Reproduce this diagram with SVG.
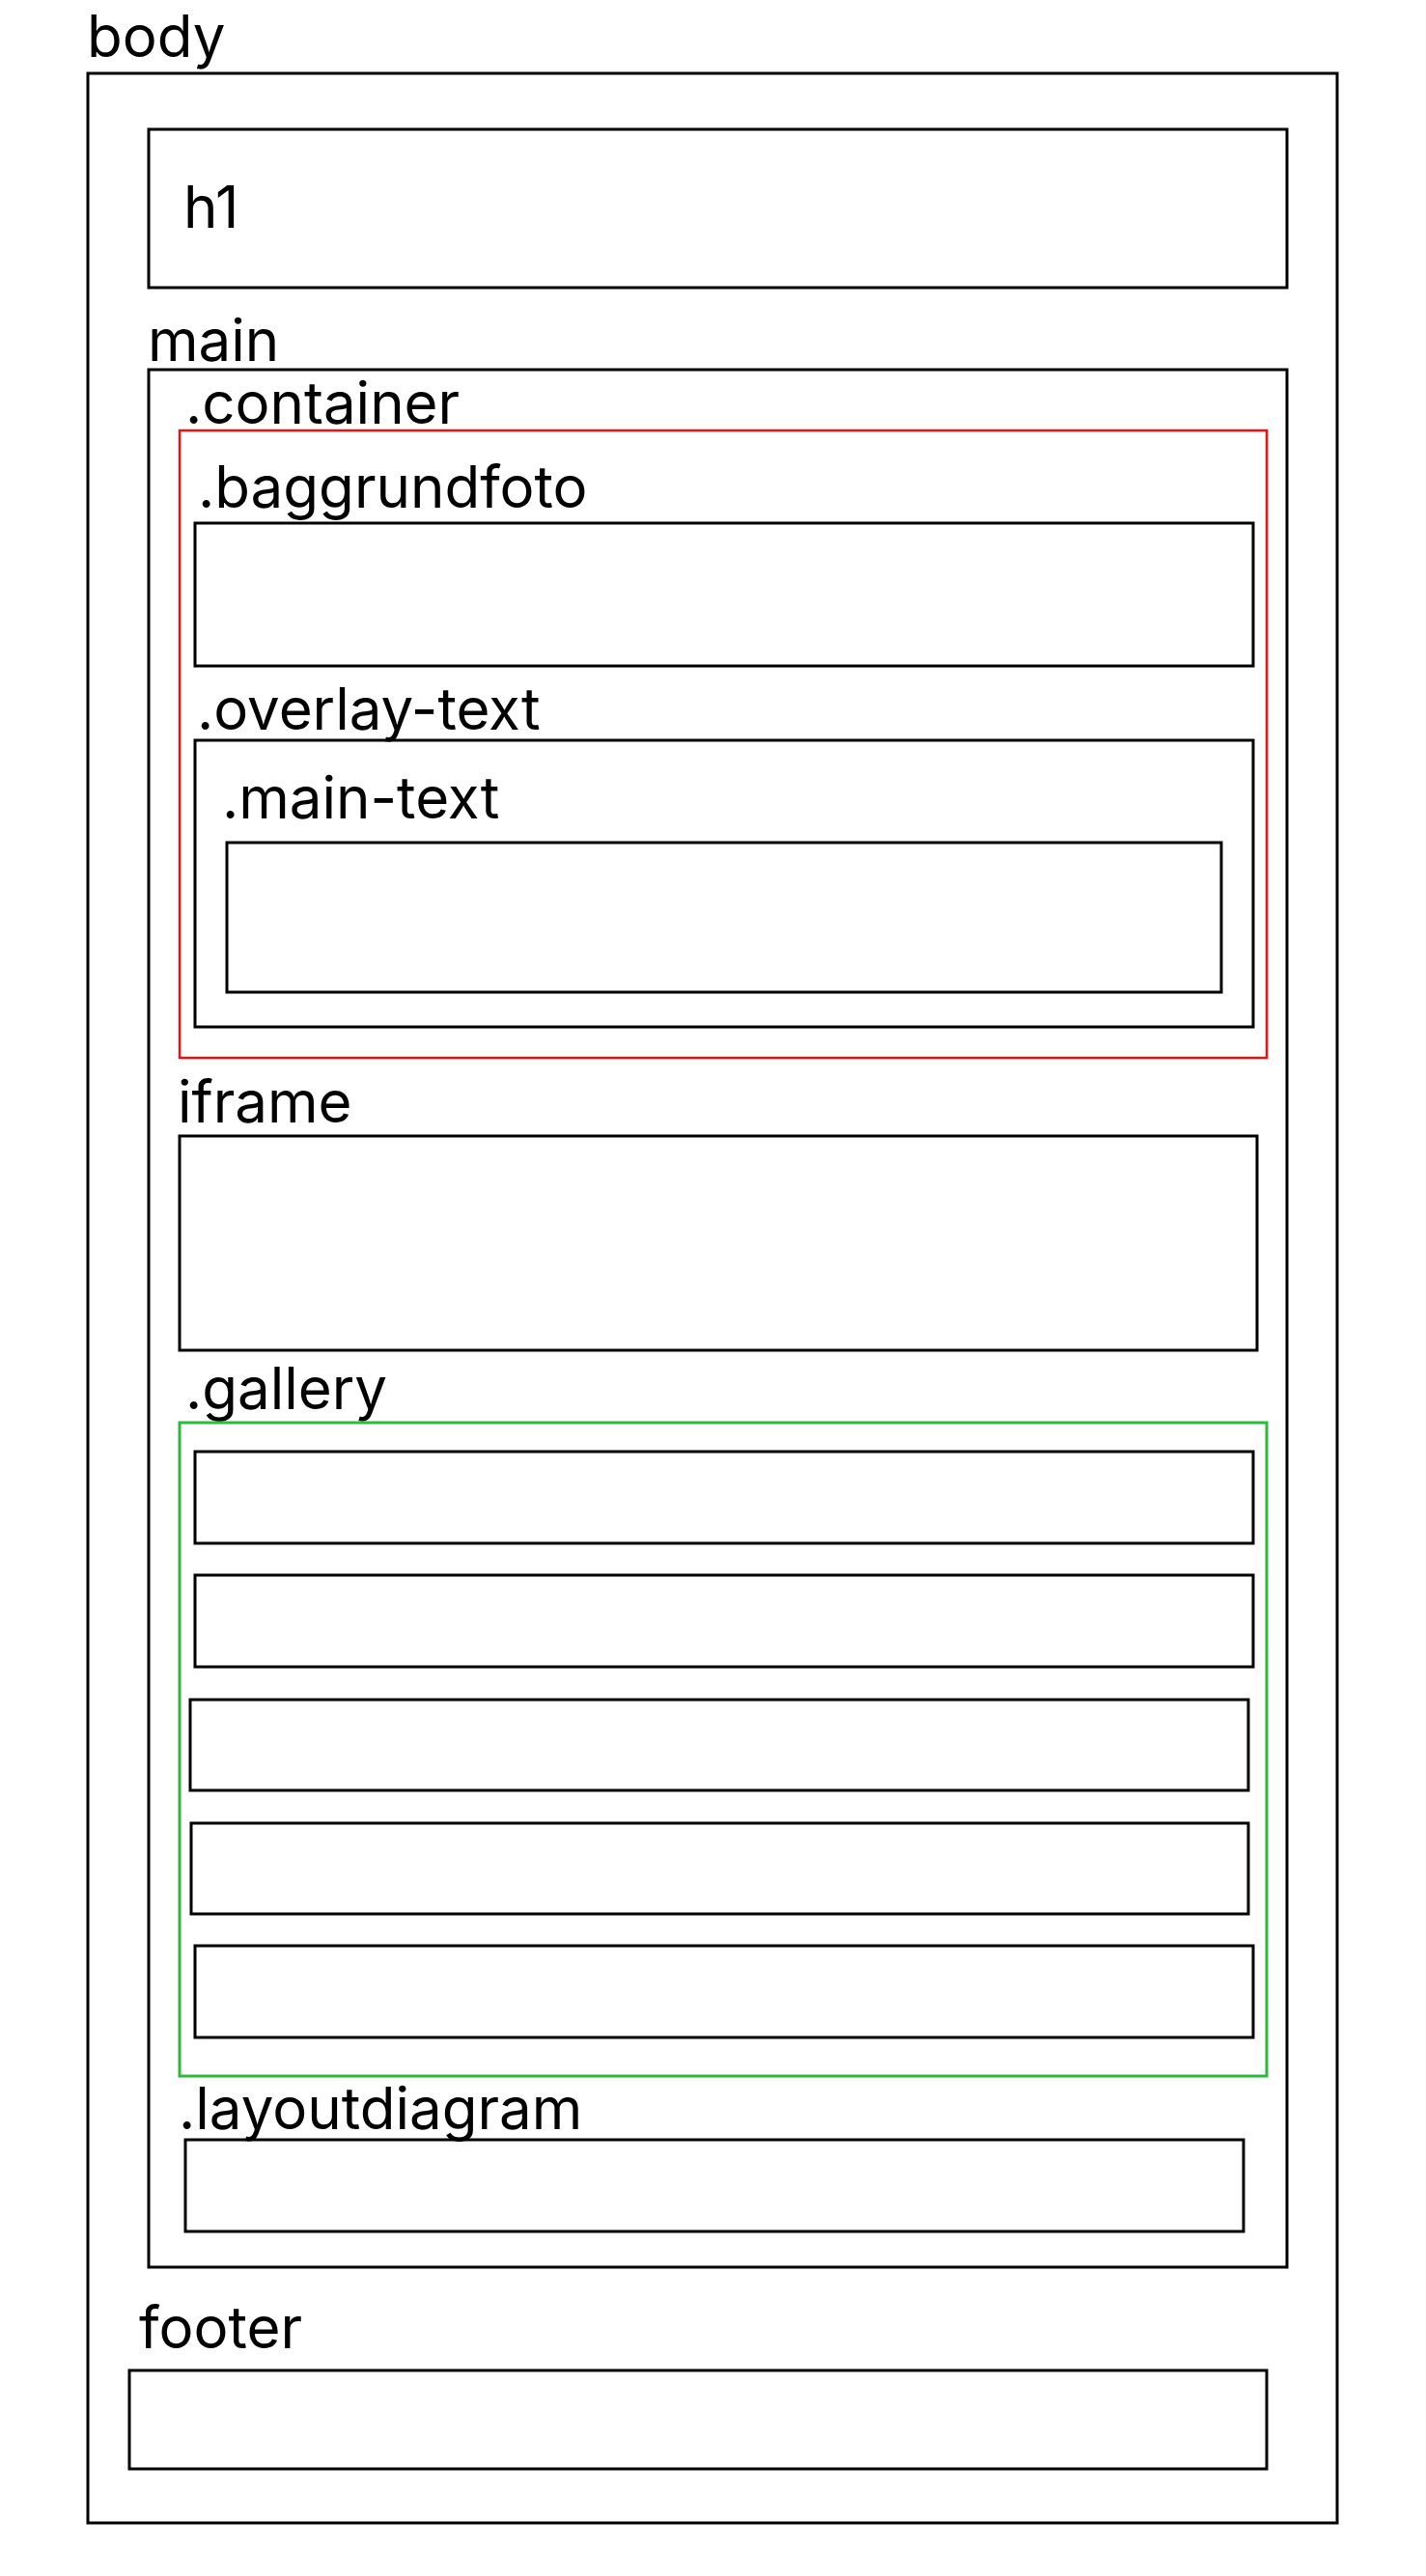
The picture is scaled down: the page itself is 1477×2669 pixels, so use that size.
<svg xmlns="http://www.w3.org/2000/svg" width="1477" height="2669" viewBox="0 0 1477 2669">
<style>
rect{fill:none;stroke:#000;stroke-width:3}
.red{stroke:#e81212;stroke-width:2.5}
.green{stroke:#2cba3a;stroke-width:3}
text{font-family:Inter,"Noto Sans",sans-serif;font-size:60px;fill:#000}
</style>
<rect x="0" y="0" width="1477" height="2669" style="fill:#fff;stroke:none"/>
<g id="body"><text x="90" y="59">body</text><rect x="91" y="76" width="1294" height="2538"/></g>
<g id="h1"><rect x="154" y="134" width="1179" height="164"/><text x="190" y="236">h1</text></g>
<g id="main"><text x="153" y="374">main</text><rect x="154" y="383" width="1179" height="1966"/></g>
<g id="container"><text x="192" y="439">.container</text><rect class="red" x="186" y="446" width="1126" height="650"/></g>
<g id="baggrundfoto"><text x="205" y="526">.baggrundfoto</text><rect x="202" y="542" width="1096" height="148"/></g>
<g id="overlay-text"><text x="204" y="756">.overlay-text</text><rect x="202" y="767" width="1096" height="297"/></g>
<g id="main-text"><text x="230" y="848">.main-text</text><rect x="235" y="873" width="1030" height="155"/></g>
<g id="iframe"><text x="184" y="1163">iframe</text><rect x="186" y="1177" width="1116" height="222"/></g>
<g id="gallery"><text x="192" y="1460">.gallery</text><rect class="green" x="186" y="1474" width="1126" height="677"/></g>
<g id="gallery-item-1"><rect x="202" y="1504" width="1096" height="95"/></g>
<g id="gallery-item-2"><rect x="202" y="1632" width="1096" height="95"/></g>
<g id="gallery-item-3"><rect x="197" y="1761" width="1096" height="94"/></g>
<g id="gallery-item-4"><rect x="198" y="1889" width="1095" height="94"/></g>
<g id="gallery-item-5"><rect x="202" y="2016" width="1096" height="95"/></g>
<g id="layoutdiagram"><text x="185" y="2206">.layoutdiagram</text><rect x="192" y="2217" width="1096" height="95"/></g>
<g id="footer"><text x="144" y="2433">footer</text><rect x="134" y="2456" width="1178" height="102"/></g>
<g id="connectors"></g>
</svg>
